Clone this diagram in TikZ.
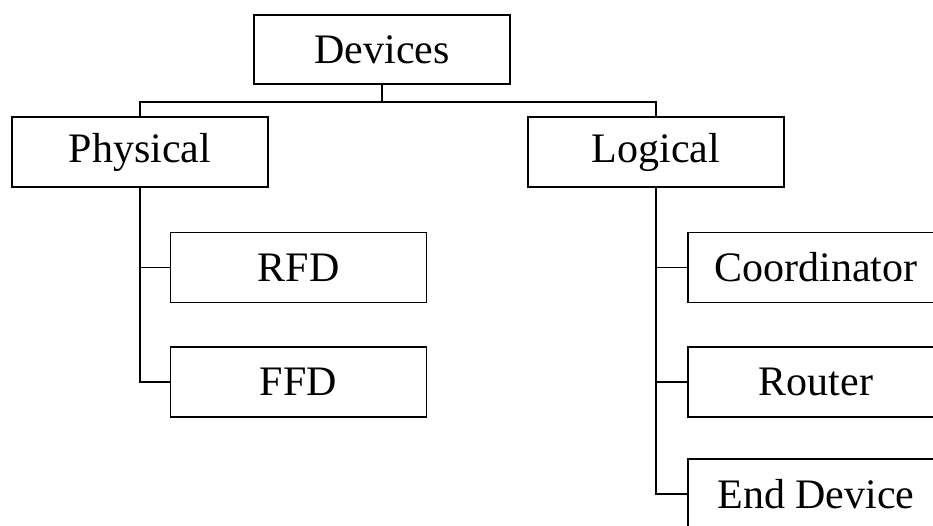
\documentclass[tikz,border=0pt]{standalone}
\usepackage{fontspec}
\setmainfont{Liberation Serif}

\begin{document}
\begin{tikzpicture}[x = 1pt, y = -1pt, line width = 1.7pt,
	box/.style = {draw, rectangle, minimum width = 256pt, minimum height = 70pt,
		inner sep = 0pt, font = \fontsize{42}{50}\selectfont}]

	% Frame
	
	\clip (0, 0) rectangle (933, 525);
	
	% Boxes
	
	\node [box, minimum height = 69pt] (devices) at (382, 49.5) {Devices};
	
	\node [box] (physical) at (140, 152) {Physical};
	\node [box] (logical) at (656, 152) {Logical};
	
	\node [box] (rfd) at (298.5, 267.5) {RFD};
	\node [box] (ffd) at (298.5, 382) {FFD};
	
	\node [box] (coord) at (816, 267.5) {Coordinator\hspace{11pt}};
	\node [box] (router) at (816, 382) {Router};
	\node [box] (enddev) at (816, 494) {End Device};

	% Connectors
	
	\draw (devices.south) -- ++(0, 17) coordinate (fork);
	\draw (physical.north) |- (fork) -| (logical.north);
	
	\foreach \child in {rfd, ffd}
		\draw (physical.south) |- (\child.west);
		
	\foreach \child in {coord, router, enddev}
		\draw (logical.south) |- (\child.west);

\end{tikzpicture}
\end{document}
